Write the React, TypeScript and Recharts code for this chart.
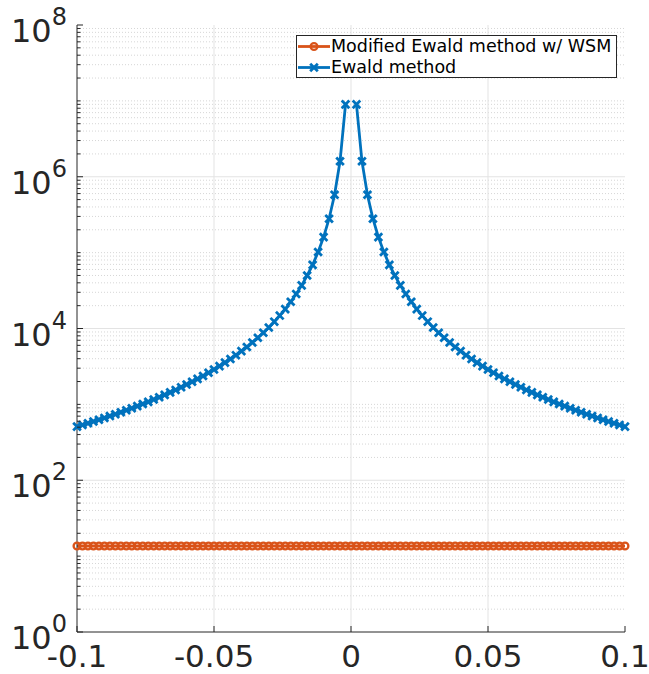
import React from "react";
import {
  LineChart,
  Line,
  XAxis,
  YAxis,
  ReferenceLine,
  Legend,
} from "recharts";

// x positions of the samples
const xValues = [
  -0.1, -0.098, -0.096, -0.094, -0.092, -0.09, -0.088, -0.086, -0.084, -0.082,
  -0.08, -0.078, -0.076, -0.074, -0.072, -0.07, -0.068, -0.066, -0.064, -0.062,
  -0.06, -0.058, -0.056, -0.054, -0.052, -0.05, -0.048, -0.046, -0.044, -0.042,
  -0.04, -0.038, -0.036, -0.034, -0.032, -0.03, -0.028, -0.026, -0.024, -0.022,
  -0.02, -0.018, -0.016, -0.014, -0.012, -0.01, -0.008, -0.006, -0.004, -0.002,
  0,
  0.002, 0.004, 0.006, 0.008, 0.01, 0.012, 0.014, 0.016, 0.018, 0.02,
  0.022, 0.024, 0.026, 0.028, 0.03, 0.032, 0.034, 0.036, 0.038, 0.04,
  0.042, 0.044, 0.046, 0.048, 0.05, 0.052, 0.054, 0.056, 0.058, 0.06,
  0.062, 0.064, 0.066, 0.068, 0.07, 0.072, 0.074, 0.076, 0.078, 0.08,
  0.082, 0.084, 0.086, 0.088, 0.09, 0.092, 0.094, 0.096, 0.098, 0.1,
];

// Modified Ewald method w/ WSM
const wsmValues = [
  13.6, 13.6, 13.6, 13.6, 13.6, 13.6, 13.6, 13.6, 13.6, 13.6,
  13.6, 13.6, 13.6, 13.6, 13.6, 13.6, 13.6, 13.6, 13.6, 13.6,
  13.6, 13.6, 13.6, 13.6, 13.6, 13.6, 13.6, 13.6, 13.6, 13.6,
  13.6, 13.6, 13.6, 13.6, 13.6, 13.6, 13.6, 13.6, 13.6, 13.6,
  13.6, 13.6, 13.6, 13.6, 13.6, 13.6, 13.6, 13.6, 13.6, 13.6,
  13.6,
  13.6, 13.6, 13.6, 13.6, 13.6, 13.6, 13.6, 13.6, 13.6, 13.6,
  13.6, 13.6, 13.6, 13.6, 13.6, 13.6, 13.6, 13.6, 13.6, 13.6,
  13.6, 13.6, 13.6, 13.6, 13.6, 13.6, 13.6, 13.6, 13.6, 13.6,
  13.6, 13.6, 13.6, 13.6, 13.6, 13.6, 13.6, 13.6, 13.6, 13.6,
  13.6, 13.6, 13.6, 13.6, 13.6, 13.6, 13.6, 13.6, 13.6, 13.6,
];

// Ewald method (no value at x = 0)
const ewaldValues = [
  509, 536, 564, 595, 627, 663, 701, 742, 788, 836,
  889, 948, 1010, 1080, 1160, 1240, 1335, 1440, 1550, 1680,
  1830, 1990, 2170, 2370, 2610, 2880, 3190, 3550, 3970, 4450,
  5030, 5700, 6550, 7550, 8800, 10300, 12300, 14800, 18000, 22500,
  28500, 37000, 50000, 69000, 102000, 160000, 280000, 580000, 1600000, 9000000,
  null,
  9000000, 1600000, 580000, 280000, 160000, 102000, 69000, 50000, 37000, 28500,
  22500, 18000, 14800, 12300, 10300, 8800, 7550, 6550, 5700, 5030,
  4450, 3970, 3550, 3190, 2880, 2610, 2370, 2170, 1990, 1830,
  1680, 1550, 1440, 1335, 1240, 1160, 1080, 1010, 948, 889,
  836, 788, 742, 701, 663, 627, 595, 564, 536, 509,
];

const xTicks = [-0.1, -0.05, 0, 0.05, 0.1];
const xTickLabels = ["-0.1", "-0.05", "0", "0.05", "0.1"];
const yMajorTicks = [1, 1e2, 1e4, 1e6, 1e8];
const yDecades = [1, 1e1, 1e2, 1e3, 1e4, 1e5, 1e6, 1e7];
const yMultipliers = [1, 2, 3, 4, 5, 6, 7, 8, 9];

const yMinorTicks: number[] = [];
yDecades.forEach((d) =>
  yMultipliers.forEach((m) => {
    const v = m * d;
    if (!yMajorTicks.includes(v)) yMinorTicks.push(v);
  })
);
const yAllTicks = [...yMajorTicks, ...yMinorTicks].sort((a, b) => a - b);

const rows = xValues.map((x, i) => ({
  x,
  wsm: wsmValues[i],
  ewald: ewaldValues[i],
}));

const AXIS = "#262626";
const FONT = "DejaVu Sans";
const BLUE = "#0072BD";
const ORANGE = "#D95319";

const isMajorY = (v: number) => yMajorTicks.includes(v);

const LeftTick = ({ x, y, payload }: any) => {
  const v = payload.value;
  const major = isMajorY(v);
  return (
    <g>
      <line x1={x} x2={x + (major ? 6 : 3.5)} y1={y} y2={y} stroke={AXIS} />
      {major && (
        <text
          x={x - 10}
          y={y + 17}
          textAnchor="end"
          fontSize={32}
          fontFamily={FONT}
          fill={AXIS}
        >
          10
          <tspan dy={-17} fontSize={24}>
            {Math.round(Math.log10(v))}
          </tspan>
        </text>
      )}
    </g>
  );
};

const RightTick = ({ x, y, payload }: any) => {
  const major = isMajorY(payload.value);
  return <line x1={x - (major ? 6 : 3.5)} x2={x} y1={y} y2={y} stroke={AXIS} />;
};

const BottomTick = ({ x, y, payload }: any) => {
  const idx = xTicks.indexOf(payload.value);
  return (
    <g>
      <line x1={x} x2={x} y1={y} y2={y - 6} stroke={AXIS} />
      <text
        x={x}
        y={y + 35}
        textAnchor="middle"
        fontSize={31}
        fontFamily={FONT}
        fill={AXIS}
      >
        {xTickLabels[idx]}
      </text>
    </g>
  );
};

const TopTick = ({ x, y }: any) => (
  <line x1={x} x2={x} y1={y} y2={y + 6} stroke={AXIS} />
);

const CrossDot = ({ cx, cy, index }: any) => {
  if (cx == null || cy == null || isNaN(cy)) return <g key={`e-${index}`} />;
  const s = 3.8;
  return (
    <g key={`e-${index}`} stroke={BLUE} strokeWidth={2.8}>
      <line x1={cx - s} y1={cy - s} x2={cx + s} y2={cy + s} />
      <line x1={cx - s} y1={cy + s} x2={cx + s} y2={cy - s} />
    </g>
  );
};

const CircleDot = ({ cx, cy, index }: any) => {
  if (cx == null || cy == null) return <g key={`w-${index}`} />;
  return (
    <circle
      key={`w-${index}`}
      cx={cx}
      cy={cy}
      r={3.4}
      fill="none"
      stroke={ORANGE}
      strokeWidth={2.3}
    />
  );
};

const LegendBox = () => {
  const items = [
    { label: "Modified Ewald method w/ WSM", color: ORANGE, kind: "o" },
    { label: "Ewald method", color: BLUE, kind: "x" },
  ];
  return (
    <div
      style={{
        width: 321,
        height: 43,
        boxSizing: "border-box",
        border: `1px solid ${AXIS}`,
        background: "#fff",
        fontFamily: FONT,
        fontSize: 17.5,
        color: "#000",
        paddingTop: 0,
      }}
    >
      {items.map((it) => (
        <div
          key={it.label}
          style={{ display: "flex", alignItems: "center", height: 21, lineHeight: "21px" }}
        >
          <svg width={34} height={21} style={{ flex: "none" }}>
            <line x1={1} x2={33} y1={10.5} y2={10.5} stroke={it.color} strokeWidth={2.8} />
            {it.kind === "o" ? (
              <circle cx={17} cy={10.5} r={3.4} fill="none" stroke={it.color} strokeWidth={2.3} />
            ) : (
              <g stroke={it.color} strokeWidth={2.8}>
                <line x1={13.2} y1={6.7} x2={20.8} y2={14.3} />
                <line x1={13.2} y1={14.3} x2={20.8} y2={6.7} />
              </g>
            )}
          </svg>
          <span style={{ whiteSpace: "nowrap" }}>{it.label}</span>
        </div>
      ))}
    </div>
  );
};

export default function App() {
  return (
    <div style={{ position: "absolute", left: 0, top: 0, background: "#fff" }}>
      <LineChart
        width={649}
        height={674}
        data={rows}
        margin={{ top: 25, right: 24, bottom: 2, left: 0 }}
      >
        <XAxis
          xAxisId="b"
          dataKey="x"
          type="number"
          domain={[-0.1, 0.1]}
          ticks={xTicks}
          interval={0}
          height={40}
          tickSize={0}
          tickMargin={0}
          tickLine={false}
          axisLine={{ stroke: AXIS }}
          tick={<BottomTick />}
        />
        <XAxis
          xAxisId="t"
          orientation="top"
          dataKey="x"
          type="number"
          domain={[-0.1, 0.1]}
          ticks={xTicks}
          interval={0}
          height={0}
          tickSize={0}
          tickMargin={0}
          tickLine={false}
          axisLine={{ stroke: AXIS }}
          tick={<TopTick />}
        />
        <YAxis
          yAxisId="l"
          type="number"
          scale="log"
          domain={[1, 1e8]}
          ticks={yAllTicks}
          interval={0}
          width={77}
          tickSize={0}
          tickMargin={0}
          tickLine={false}
          axisLine={{ stroke: AXIS }}
          tick={<LeftTick />}
          allowDataOverflow
        />
        <YAxis
          yAxisId="r"
          orientation="right"
          type="number"
          scale="log"
          domain={[1, 1e8]}
          ticks={yAllTicks}
          interval={0}
          width={0}
          tickSize={0}
          tickMargin={0}
          tickLine={false}
          axisLine={{ stroke: AXIS }}
          tick={<RightTick />}
          allowDataOverflow
        />

        {yMinorTicks.map((v) => (
          <ReferenceLine
            key={`ym-${v}`}
            xAxisId="b"
            yAxisId="l"
            y={v}
            stroke="#d6d6d6"
            strokeDasharray="1 2"
          />
        ))}
        {yMajorTicks.slice(1, -1).map((v) => (
          <ReferenceLine key={`yM-${v}`} xAxisId="b" yAxisId="l" y={v} stroke="#e3e3e3" />
        ))}
        {xTicks.slice(1, -1).map((v) => (
          <ReferenceLine key={`xM-${v}`} xAxisId="b" yAxisId="l" x={v} stroke="#e3e3e3" />
        ))}

        <Line
          xAxisId="b"
          yAxisId="l"
          dataKey="wsm"
          stroke={ORANGE}
          strokeWidth={2.8}
          dot={<CircleDot />}
          activeDot={false}
          isAnimationActive={false}
        />
        <Line
          xAxisId="b"
          yAxisId="l"
          dataKey="ewald"
          stroke={BLUE}
          strokeWidth={2.8}
          dot={<CrossDot />}
          activeDot={false}
          connectNulls={false}
          isAnimationActive={false}
        />
        <Legend
          layout="horizontal"
          verticalAlign="middle"
          content={<LegendBox />}
          wrapperStyle={{ left: 296, top: 35, width: 321, height: 43 }}
        />
      </LineChart>
    </div>
  );
}
